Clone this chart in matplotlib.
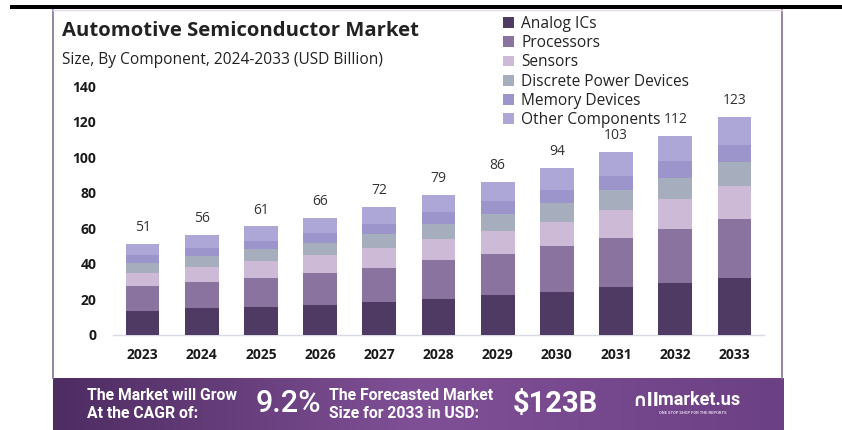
import numpy as np
import matplotlib
matplotlib.use("Agg")
import matplotlib.pyplot as plt
from matplotlib.patches import Rectangle

years = ["2023", "2024", "2025", "2026", "2027", "2028", "2029", "2030", "2031", "2032", "2033"]
totals = [51, 56, 61, 66, 72, 79, 86, 94, 103, 112, 123]
series_names = ["Analog ICs", "Processors", "Sensors", "Discrete Power Devices",
                "Memory Devices", "Other Components"]
analog_ics = [13.2, 14.7, 15.8, 16.7, 18.6, 20.2, 22.1, 24.0, 26.9, 29.2, 32.0]
processors = [14.0, 15.0, 16.2, 17.8, 19.2, 21.7, 23.3, 26.0, 27.6, 30.3, 33.1]
sensors = [7.7, 8.4, 9.7, 10.3, 11.1, 11.9, 13.2, 13.6, 16.0, 17.2, 18.8]
discrete_power = [5.7, 6.1, 6.5, 7.1, 7.9, 8.5, 9.5, 10.6, 10.9, 11.8, 13.2]
memory_devices = [4.2, 4.8, 4.8, 5.3, 5.8, 6.6, 7.2, 7.5, 8.1, 9.4, 9.8]
other_components = [6.2, 7.0, 8.0, 8.8, 9.4, 10.1, 10.7, 12.3, 13.5, 14.1, 16.1]
y_ticks = [0, 20, 40, 60, 80, 100, 120, 140]

colors = ["#4f3a64", "#8b73a0", "#cdbad6", "#a6adbd", "#9c95cc", "#aca7d6"]

W, H = 842, 430
fig = plt.figure(figsize=(W / 100, H / 100), dpi=100)
fig.patch.set_facecolor("white")

def fx(x):
    return x / W

def fy(y):
    return 1 - y / H

# top black bar
fig.add_artist(Rectangle((fx(10), fy(8.7)), fx(832), 3.9 / H, transform=fig.transFigure,
                         facecolor="black", edgecolor="none", zorder=5))
# card border
border_c = "#8c7d9b"
fig.add_artist(plt.Line2D([fx(53), fx(53)], [fy(9), fy(378)], transform=fig.transFigure,
                          color=border_c, lw=1.3))
fig.add_artist(plt.Line2D([fx(782), fx(782)], [fy(9), fy(378)], transform=fig.transFigure,
                          color=border_c, lw=1.3))
fig.add_artist(plt.Line2D([fx(53), fx(782)], [fy(9.5), fy(9.5)], transform=fig.transFigure,
                          color="#e6d6ea", lw=1))

# titles
fig.text(fx(62), fy(31), "Automotive Semiconductor Market", fontsize=14.6, fontweight="bold",
         family="Open Sans", color="#222222", va="center", ha="left")
fig.text(fx(62), fy(60), "Size, By Component, 2024-2033 (USD Billion)", fontsize=11.2,
         family="Open Sans", color="#222222", va="center", ha="left")

# main axes
ax = fig.add_axes([fx(113), fy(334.5), fx(764) - fx(113), (334.5 - 86.5) / H])
x = np.arange(len(years))
data = [analog_ics, processors, sensors, discrete_power, memory_devices, other_components]
bottom = np.zeros(len(years))
handles = []
for name, vals, c in zip(series_names, data, colors):
    b = ax.bar(x, vals, width=0.57, bottom=bottom, color=c, label=name, zorder=3)
    handles.append(b)
    bottom += np.array(vals)

for xi, t, top in zip(x, totals, bottom):
    ax.text(xi, top + 5, str(t), ha="center", va="bottom", fontsize=10,
            family="Open Sans", color="#333333")

ax.set_xlim(-0.5, 10.5)
ax.set_ylim(0, 140)
ax.set_yticks(y_ticks)
ax.set_yticklabels([str(v) for v in y_ticks], fontweight="bold", fontsize=10,
                   family="Open Sans", color="#1a1a1a")
ax.set_xticks(x)
ax.set_xticklabels(years, fontweight="bold", fontsize=10, family="Open Sans", color="#1a1a1a")
ax.tick_params(axis="y", length=0, pad=12)
ax.tick_params(axis="x", length=0, pad=10)
for s in ["top", "right", "left"]:
    ax.spines[s].set_visible(False)
ax.spines["bottom"].set_color("#d9d9e3")
ax.spines["bottom"].set_linewidth(1)
ax.patch.set_alpha(0)

# legend
leg = fig.legend(handles=handles, labels=series_names, loc="upper left",
                 bbox_to_anchor=(fx(497), fy(10)), frameon=False, ncol=1,
                 prop={"family": "Open Sans", "size": 11.2},
                 handlelength=0.7, handleheight=0.7, handletextpad=0.45,
                 labelspacing=0.2, borderaxespad=0)
for t in leg.get_texts():
    t.set_color("#222222")

# bottom banner with gradient
bax = fig.add_axes([fx(53), 0, fx(784) - fx(53), (430 - 378) / H])
grad_x = np.linspace(0, 1, 256)
c_left = np.array([0x4e, 0x2c, 0x62]) / 255
c_mid = np.array([0x80, 0x50, 0x96]) / 255
c_right = np.array([0x6c, 0x40, 0x84]) / 255
img = np.zeros((1, 256, 3))
for i, g in enumerate(grad_x):
    if g < 0.5:
        img[0, i] = c_left + (c_mid - c_left) * (g / 0.5)
    else:
        img[0, i] = c_mid + (c_right - c_mid) * ((g - 0.5) / 0.5)
bax.imshow(img, aspect="auto", extent=[0, 1, 0, 1])
bax.set_xlim(0, 1)
bax.set_ylim(0, 1)
bax.axis("off")

fig.text(fx(87), fy(395), "The Market will Grow", fontsize=11.3, fontweight="bold",
         family="Roboto", color="white", va="center", ha="left")
fig.text(fx(87), fy(413), "At the CAGR of:", fontsize=11.3, fontweight="bold",
         family="Roboto", color="white", va="center", ha="left")
fig.text(fx(256), fy(404), "9.2%", fontsize=22, fontweight="medium", family="Roboto",
         color="white", va="center", ha="left")
fig.text(fx(329), fy(395), "The Forecasted Market", fontsize=11.3, fontweight="bold",
         family="Roboto", color="white", va="center", ha="left")
fig.text(fx(329), fy(413), "Size for 2033 in USD:", fontsize=11.3, fontweight="bold",
         family="Roboto", color="white", va="center", ha="left")
fig.text(fx(513), fy(404), "$123B", fontsize=21, fontweight="bold", family="Roboto",
         color="white", va="center", ha="left")
fig.text(fx(632), fy(401), "\u2229ll", fontsize=13, fontweight="bold", family="DejaVu Sans",
         color="white", va="center", ha="left")
fig.text(fx(658), fy(400), "market.us", fontsize=13, fontweight="bold", family="Roboto",
         color="white", va="center", ha="left")
fig.text(fx(659), fy(413), "ONE STOP SHOP FOR THE REPORTS", fontsize=3, fontweight="bold",
         family="Roboto", color="#e0d0e8", va="center", ha="left")

fig.savefig("out.png", dpi=100, facecolor="white")
